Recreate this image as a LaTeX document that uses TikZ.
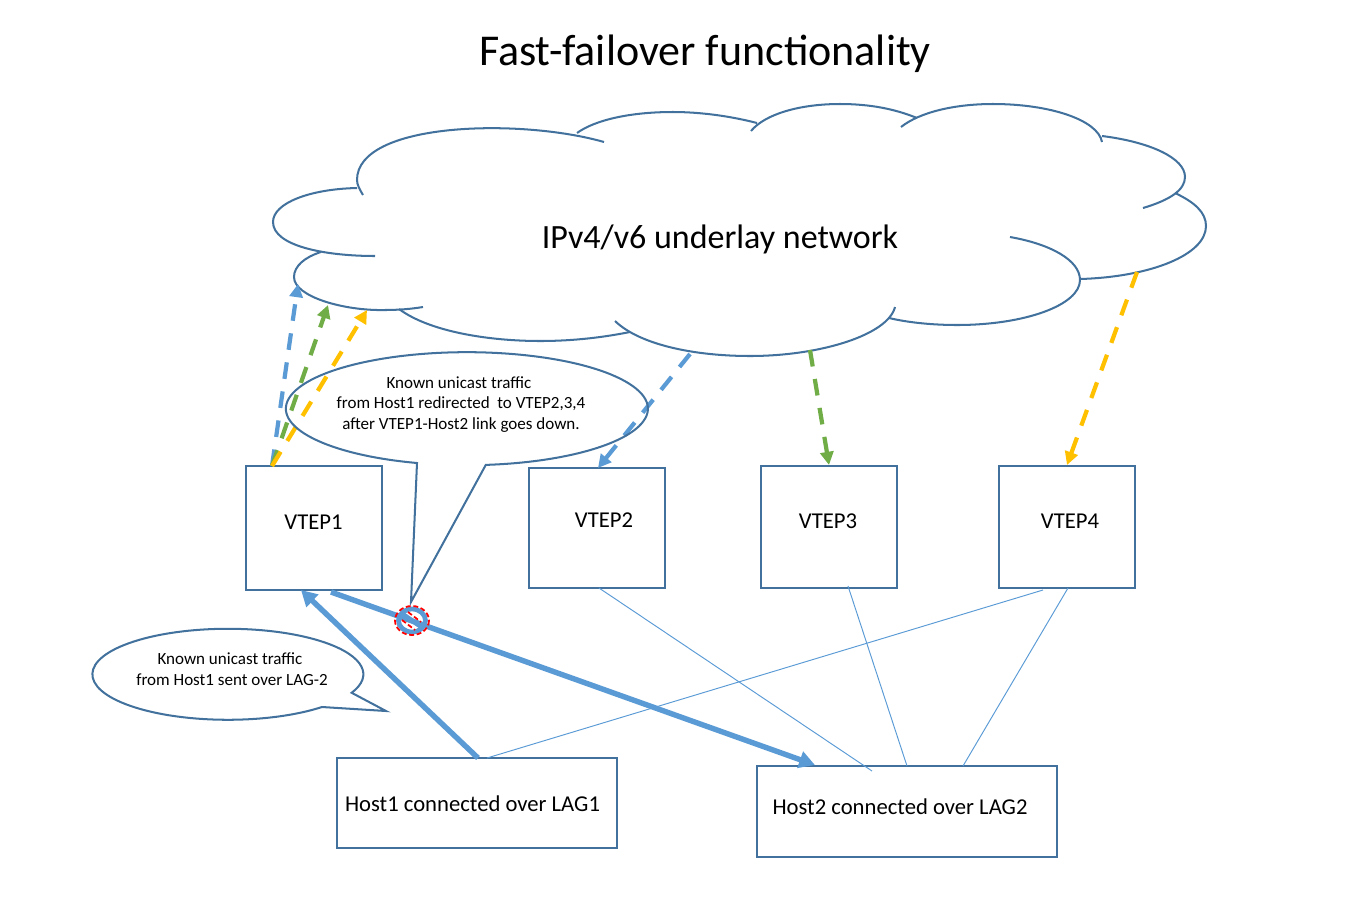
\documentclass[tikz,border=0pt]{standalone}
\usepackage{fontspec}
\setmainfont{Carlito}
\usetikzlibrary{
    arrows.meta,
    positioning,
    calc
}
\definecolor{outline blue}{HTML}{41719C}
\definecolor{link blue}{HTML}{5B9BD5}
\definecolor{link green}{HTML}{70AD47}
\definecolor{link yellow}{HTML}{FFC000}
\tikzset{
    % Outlines
    cloud line/.style={draw=outline blue,line width=1.15pt},
    box/.style={rectangle,cloud line,inner sep=0pt,outer sep=0pt},
    %
    % Texts
    title text/.style={font=\fontsize{25.05}{29}\selectfont},
    cloud text/.style={font=\fontsize{19.35}{23}\selectfont},
    box text/.style={font=\fontsize{12.9}{15}\selectfont},
    bubble text/.style={align=center,font=\fontsize{9.7}{11.6}\selectfont},
    %
    % Arrows
    arrow tip/.tip={Triangle[length=7.5pt,width=7.5pt]},
    big tip/.tip={Triangle[length=9pt,width=9.5pt]},
    dasharr/.style={-{arrow tip},line width=2.4pt,dash pattern=on 9.5pt off 7.2pt},
    heavyarr/.style={-{big tip},color=link blue,line width=3.1pt},
    thinlink/.style={color=link blue,line width=.55pt},
    %
    % Blocked sign
    sign blue/.style={color=link blue,line width=2.7pt},
    sign red/.style={color=red,line width=1pt,dash pattern=on 2.8pt off 1.5pt}
}

\begin{document}
\begin{tikzpicture}[x=.02cm,y=-.02cm]
    \useasboundingbox (0,0) rectangle (1366,920);

    \node[title text] (title) at (705,53.5) {Fast-failover functionality};

    % Cloud
    \draw[cloud line] (604,142) .. controls (520,118) and (357,122) .. (357,180) .. controls (357,185) and (360,190) .. (363,195);
    \draw[cloud line] (357,188) .. controls (310,189) and (273,203) .. (273,222) .. controls (273,246) and (325,256) .. (375,256);
    \draw[cloud line] (321,252) .. controls (305,257) and (294,266) .. (294,277) .. controls (294,297) and (345,311) .. (385,310) .. controls (398,310) and (411,309) .. (423,307);
    \draw[cloud line] (399,309) .. controls (430,332) and (490,341) .. (540,341) .. controls (575,341) and (605,337) .. (630,332);
    \draw[cloud line] (615,321) .. controls (640,345) and (695,356) .. (750,356) .. controls (820,356) and (888,335) .. (895,307);
    \draw[cloud line] (889,318) .. controls (910,323) and (935,325) .. (957,325) .. controls (1025,325) and (1080,305) .. (1080,280) .. controls (1080,260) and (1050,244) .. (1010,237);
    \draw[cloud line] (1080,279) .. controls (1150,277) and (1206,255) .. (1206,226) .. controls (1206,212) and (1194,202) .. (1175,193);
    \draw[cloud line] (1143,208) .. controls (1170,200) and (1185,190) .. (1185,177) .. controls (1185,158) and (1150,142) .. (1102,136);
    \draw[cloud line] (1102,142) .. controls (1098,120) and (1050,104) .. (993,104) .. controls (955,104) and (920,112) .. (901,127);
    \draw[cloud line] (917,118) .. controls (895,109) and (870,104) .. (840,104) .. controls (800,104) and (765,114) .. (751,131);
    \draw[cloud line] (757,123) .. controls (730,116) and (700,112) .. (673,112) .. controls (630,112) and (595,120) .. (577,133);
    \node[cloud text] (underlay) at (720,239) {IPv4/v6 underlay network};

    % VTEPs and hosts
    \node[box,minimum width=136*.02cm,minimum height=124*.02cm] (vtep1) at (314,528) {};
    \node[box,minimum width=136*.02cm,minimum height=120*.02cm] (vtep2) at (597,528) {};
    \node[box,minimum width=136*.02cm,minimum height=122*.02cm] (vtep3) at (829,527) {};
    \node[box,minimum width=136*.02cm,minimum height=122*.02cm] (vtep4) at (1067,527) {};
    \node[box,minimum width=280*.02cm,minimum height=90*.02cm] (host1) at (477,803) {};
    \node[box,minimum width=300*.02cm,minimum height=91*.02cm] (host2) at (907,811.5) {};
    \node[box text] (vtep1 text) at (313.5,522) {VTEP1};
    \node[box text] (vtep2 text) at (604,520) {VTEP2};
    \node[box text] (vtep3 text) at (828,521) {VTEP3};
    \node[box text] (vtep4 text) at (1070,521) {VTEP4};
    \node[box text] (host1 text) at (472.5,804) {Host1 connected over LAG1};
    \node[box text] (host2 text) at (900,807) {Host2 connected over LAG2};

    % Free ends
    \coordinate (v1 out) at (272,466);
    \coordinate (cloud blue) at (298,284);
    \coordinate (cloud green) at (328,305);
    \coordinate (cloud yellow) at (367,310);
    \coordinate (under blue) at (690,354);
    \coordinate (under green) at (810,350);
    \coordinate (under yellow) at (1137,272);
    \coordinate (v2 in) at (598,468);
    \coordinate (v3 in) at (829,465);
    \coordinate (v4 in) at (1067,465);

    % Thin links
    \draw[thinlink] (599,588) -- (872,771);
    \draw[thinlink] (848,586) -- (907,766);
    \draw[thinlink] (1068,588) -- (963,766);
    \draw[thinlink] (1043,590) -- (487,758);

    % Dashed links
    \draw[dasharr,color=link blue] (v1 out) -- (cloud blue);
    \draw[dasharr,color=link green] (v1 out) -- (cloud green);
    \draw[dasharr,color=link yellow] (v1 out) -- (cloud yellow);
    \draw[dasharr,color=link blue] (under blue) -- (v2 in);
    \draw[dasharr,color=link green] (under green) -- (v3 in);
    \draw[dasharr,color=link yellow] (under yellow) -- (v4 in);

    % Bubbles
    \draw[cloud line] (417,463) arc[start angle=106,end angle=444,x radius=181,y radius=56.5] -- (411,602) -- cycle;
    \node[bubble text] (redirect) at (461,404.5) {Known unicast traffic\hspace*{2.3pt}\\from Host1 redirected\ \ to VTEP2,3,4\\after VTEP1-Host2 link goes down.};
    \draw[cloud line] (322,707) arc[start angle=46,end angle=384,x radius=135.5,y radius=45.5] -- (386,711) -- cycle;
    \node[bubble text] (lag text) at (232,669) {Known unicast traffic\hspace*{2.3pt}\\from Host1 sent over LAG-2};

    % Heavy links
    \draw[heavyarr] (478,758) -- (301,590);
    \draw[heavyarr] (331,592) -- (815,765);

    % Blocked sign
    \draw[sign blue] (412,620.5) ellipse[x radius=13.5,y radius=11.5];
    \draw[sign blue] (401,613) -- (423,628);
    \draw[sign red] (412,620.5) ellipse[x radius=17,y radius=14.5];
    \draw[sign red] (408,612) -- (421,622);
    \draw[sign red] (402,620) -- (415,630);
\end{tikzpicture}
\end{document}
